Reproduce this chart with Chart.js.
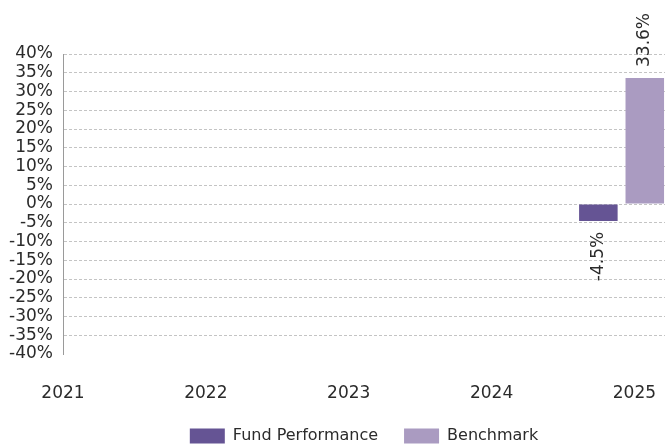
<!DOCTYPE html>
<html>
<head>
<meta charset="utf-8">
<script src="https://cdn.jsdelivr.net/npm/chart.js@4.4.1/dist/chart.umd.min.js"></script>
<style>
    html, body { margin: 0; padding: 0; background: #fff; }
    #chartBox { display: block; }
</style>
</head>
<body>
<canvas id="chartBox" width="665" height="445"></canvas>
<script>
const years = [2021, 2022, 2023, 2024, 2025]
const barYear = [2024.91]
const fundPerformance = [-4.5]
const benchmark = [33.6]
const yMin = -40
const yMax = 40
const yStep = 5

const textColor = '#2b2b2b'
const fontFamily = '"DejaVu Sans", sans-serif'

// rotated value labels above / below each bar
const barLabels = {
    id: 'barLabels',
    afterDatasetsDraw(chart) {
        const ctx = chart.ctx
        ctx.save()
        ctx.font = '17px ' + fontFamily
        ctx.fillStyle = textColor
        ctx.textBaseline = 'middle'
        chart.data.datasets.forEach((ds, i) => {
            chart.getDatasetMeta(i).data.forEach((bar, j) => {
                const v = ds.data[j].y
                ctx.save()
                ctx.translate(bar.x, v >= 0 ? bar.y - 11 : bar.y + 11)
                ctx.rotate(-Math.PI / 2)
                ctx.textAlign = v >= 0 ? 'left' : 'right'
                ctx.fillText(v.toFixed(1) + '%', 0, 0)
                ctx.restore()
            })
        })
        ctx.restore()
    }
}

const toPoints = (values) => values.map((y, i) => ({ x: barYear[i], y }))

const context = document.querySelector('#chartBox').getContext('2d')
const chart = new Chart(context, {
    type: 'bar',
    data: {
        datasets: [{
            label: 'Fund Performance',
            backgroundColor: '#655494',
            data: toPoints(fundPerformance)
        }, {
            label: 'Benchmark',
            backgroundColor: '#aa9bc1',
            data: toPoints(benchmark)
        }]
    },
    options: {
        responsive: false,
        animation: false,
        devicePixelRatio: 1,
        categoryPercentage: 0.65,
        barPercentage: 0.83,
        layout: { padding: { top: 54, left: 0, right: 0, bottom: -9 } },
        plugins: {
            tooltip: { enabled: false },
            legend: {
                position: 'bottom',
                fullSize: false,
                labels: {
                    boxWidth: 35,
                    boxHeight: 15,
                    padding: 26,
                    color: textColor,
                    font: { family: fontFamily, size: 16 }
                }
            }
        },
        scales: {
            x: {
                type: 'linear',
                min: years[0],
                max: 2025.214,
                offset: false,
                grid: { display: false, drawTicks: false, offset: false },
                border: { display: false },
                ticks: {
                    stepSize: 1,
                    includeBounds: false,
                    padding: 29,
                    color: textColor,
                    font: { family: fontFamily, size: 17 },
                    callback: (v) => years.includes(v) ? String(v) : ''
                },
                afterFit: (scale) => {
                    scale.height = 48
                    scale.paddingLeft = 0
                    scale.paddingRight = 0
                }
            },
            y: {
                min: yMin,
                max: yMax,
                grid: {
                    drawTicks: false,
                    color: (c) => c.tick && c.tick.value === yMin ? 'rgba(0,0,0,0)' : '#c4c4c4'
                },
                border: { color: '#9a9a9a', dash: [3, 2] },
                ticks: {
                    stepSize: yStep,
                    autoSkip: false,
                    padding: 10,
                    color: textColor,
                    font: { family: fontFamily, size: 17 },
                    callback: (v) => v + '%'
                },
                afterFit: (scale) => { scale.width = 63 }
            }
        }
    },
    plugins: [barLabels]
})
</script>
</body>
</html>
